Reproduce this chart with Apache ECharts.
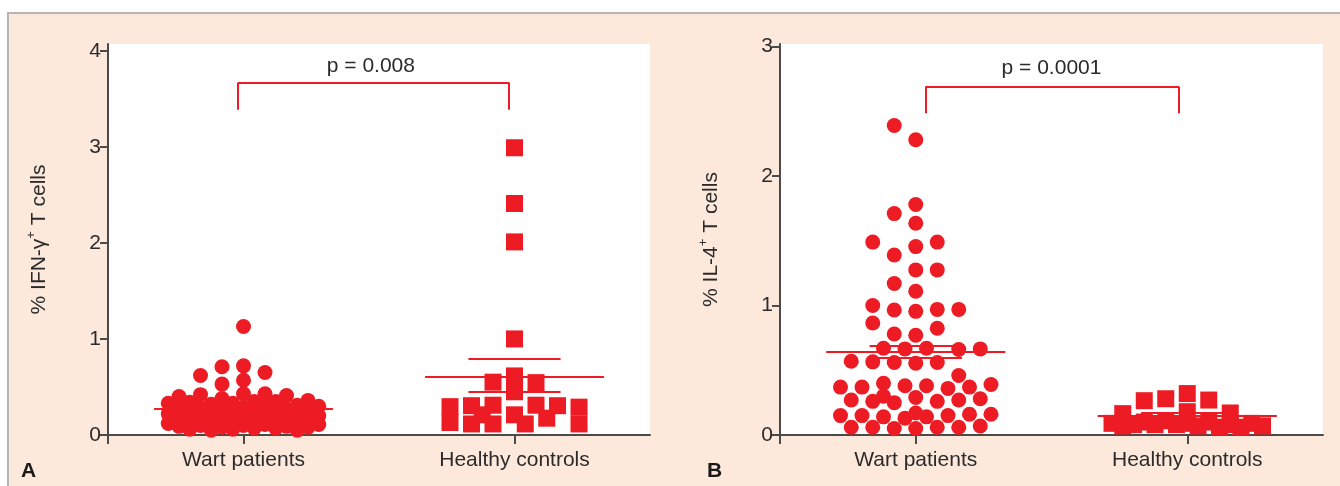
<!DOCTYPE html>
<html><head><meta charset="utf-8">
<script src="https://cdn.jsdelivr.net/npm/echarts@6/dist/echarts.min.js"></script>
<style>
html,body{margin:0;padding:0;background:#fff;width:1340px;height:486px;overflow:hidden;}
#frame{position:absolute;left:7px;top:12px;width:1340px;height:480px;background:#fde8dc;border-top:2px solid #b5b5b5;border-left:2px solid #b5b5b5;}
#chart{position:absolute;left:0;top:0;width:1340px;height:486px;}
</style></head><body>
<div id="frame"></div><div id="chart"></div>
<script>
// ---------------- data ----------------
const categories = ['Wart patients', 'Healthy controls'];

// Panel A: % IFN-gamma+ T cells
const ifnWart = [1.13, 0.72, 0.71, 0.65, 0.62, 0.57, 0.53, 0.43, 0.43, 0.42, 0.41, 0.40, 0.38,
  0.36, 0.35, 0.35, 0.34, 0.33, 0.33, 0.32, 0.31,
  0.30, 0.30, 0.29, 0.28, 0.28, 0.27, 0.26, 0.26,
  0.25, 0.24, 0.24, 0.23, 0.22, 0.22, 0.21, 0.20,
  0.20, 0.19, 0.18, 0.18, 0.17, 0.16, 0.16, 0.15,
  0.14, 0.14, 0.13, 0.13, 0.12, 0.12, 0.11, 0.11,
  0.10, 0.10, 0.09, 0.09, 0.08, 0.08, 0.07, 0.07,
  0.06, 0.06, 0.05, 0.05];
const ifnHealthy = [2.99, 2.41, 2.01, 1.00, 0.615, 0.55, 0.545, 0.45,
  0.31, 0.31, 0.305, 0.305, 0.295, 0.29, 0.21, 0.21, 0.175,
  0.13, 0.115, 0.115, 0.115, 0.115];
const ifnMean = [0.275, 0.61];
const ifnSemHigh = [0.30, 0.79];
const ifnSemLow = [0.25, 0.455];

// Panel B: % IL-4+ T cells
const il4Wart = [2.39, 2.28, 1.78, 1.71, 1.635, 1.49, 1.49, 1.455, 1.39, 1.275, 1.275, 1.17, 1.11,
  1.00, 0.97, 0.97, 0.965, 0.955, 0.865, 0.825, 0.78, 0.77,
  0.67, 0.665, 0.66, 0.665, 0.67,
  0.56, 0.565, 0.555, 0.56, 0.57, 0.46,
  0.39, 0.38, 0.37, 0.37, 0.38, 0.40, 0.36, 0.37,
  0.27, 0.25, 0.28, 0.29, 0.26, 0.30, 0.27, 0.26,
  0.15, 0.16, 0.14, 0.15, 0.17, 0.13, 0.15, 0.16, 0.14,
  0.06, 0.06, 0.05, 0.07, 0.06, 0.05, 0.06];
const il4Healthy = [0.32, 0.28, 0.27, 0.265, 0.18, 0.17, 0.165,
  0.11, 0.10, 0.10, 0.09, 0.09, 0.09, 0.08, 0.08, 0.08, 0.08, 0.07, 0.07, 0.07, 0.06, 0.06];
const il4Mean = [0.645, 0.145];
const il4SemHigh = [0.69, 0.17];
const il4SemLow = [0.60, 0.12];

// annotations
const pLabels = ['p = 0.008', 'p = 0.0001'];
const bracketEnds = [[0.48, 1.48], [0.535, 1.47]];
const bracketTop = [3.67, 2.69];
const bracketLeg = [3.385, 2.485];
const pLabelAt = [[0.97, 3.84], [1.0, 2.83]];
const yTicksA = [0, 1, 2, 3, 4];
const yTicksB = [0, 1, 2, 3];
const yTitles = ['% IFN-γ{sup|+} T cells', '% IL-4{sup|+} T cells'];
const panelLetters = ['A', 'B'];

// ---------------- layout ----------------
const RED = '#ed1c24';
const AXIS = '#4a4a4a';
const TXT = '#2b2b2b';
const FONT = "'Liberation Sans', Arial, Helvetica, sans-serif";
const GRID_TOP = 44, GRID_H = 391;
const grids = [{left: 108, width: 542}, {left: 780, width: 543}];
const yMax = [4.07, 3.02];

function swarm(values, center, pxX, pxY, o) {
  const order = values.map((v, i) => i).sort((a, b) => o.desc ? values[b] - values[a] : values[a] - values[b]);
  const placed = [];
  const res = new Array(values.length);
  const nMax = Math.floor(o.maxHalf / o.step + 1e-9);
  const primary = [0];
  for (let k = 1; k <= nMax; k++) primary.push(-k * o.step, k * o.step);
  const secondary = [];
  for (let k = 0.5; k <= o.maxHalf / o.step + 1e-9; k += 1) secondary.push(-k * o.step, k * o.step);
  const minDist = (x, y) => { let m = Infinity; for (const p of placed) { const d = Math.hypot(p.x - x, p.y - y); if (d < m) m = d; } return m; };
  for (const i of order) {
    const y = values[i] * pxY;
    let best = null;
    for (const x of primary) if (minDist(x, y) >= o.d) { best = x; break; }
    if (best === null) for (const x of secondary) if (minDist(x, y) >= o.d) { best = x; break; }
    if (best === null) {
      let bm = -1;
      for (const x of primary.concat(secondary)) { const m = minDist(x, y); if (m > bm + 0.01) { bm = m; best = x; } }
    }
    placed.push({x: best, y});
    res[i] = [center + best / pxX, values[i]];
  }
  return res;
}

function panelSeries(p, wart, healthy, mean, hi, lo) {
  const pxX = grids[p].width / 2;
  const pxY = GRID_H / yMax[p];
  const wartPts = swarm(wart, 0.5, pxX, pxY, {step: 21.5, d: p === 0 ? 12.5 : 15, maxHalf: 78, desc: p === 0});
  const hPts = swarm(healthy, 1.5, pxX, pxY, {step: 21.5, d: 15.5, maxHalf: 78, desc: true});
  const seg = (c, half, y) => [{coord: [c - half, y]}, {coord: [c + half, y]}];
  const meanLines = (gi) => {
    const c = gi + 0.5;
    return [seg(c, 0.33, mean[gi]), seg(c, 0.17, hi[gi]), seg(c, 0.17, lo[gi])];
  };
  const ml = (data) => ({
    silent: true, symbol: ['none', 'none'], label: {show: false},
    lineStyle: {color: RED, width: 2, type: 'solid'}, emphasis: {disabled: true},
    animation: false, data
  });
  const be = bracketEnds[p];
  return [
    {type: 'scatter', xAxisIndex: p, yAxisIndex: p, data: wartPts, symbol: 'circle', symbolSize: 15,
      itemStyle: {color: RED, opacity: 1}, animation: false, markLine: ml(meanLines(0))},
    {type: 'scatter', xAxisIndex: p, yAxisIndex: p, data: hPts, symbol: 'rect', symbolSize: 17,
      itemStyle: {color: RED, opacity: 1}, animation: false, markLine: ml(meanLines(1))},
    {type: 'scatter', xAxisIndex: p, yAxisIndex: p, data: [], animation: false,
      markLine: ml([
        [{coord: [be[0], bracketTop[p]]}, {coord: [be[1], bracketTop[p]]}],
        [{coord: [be[0], bracketTop[p]]}, {coord: [be[0], bracketLeg[p]]}],
        [{coord: [be[1], bracketTop[p]]}, {coord: [be[1], bracketLeg[p]]}]
      ]),
      markPoint: {symbol: 'rect', symbolSize: 0, silent: true, animation: false,
        label: {show: true, position: 'inside', formatter: pLabels[p], color: TXT, fontSize: 21, fontFamily: FONT},
        data: [{coord: pLabelAt[p]}]}
    }
  ];
}

const axisLine = {show: true, onZero: false, lineStyle: {color: AXIS, width: 2}};
const option = {
  animation: false,
  textStyle: {fontFamily: FONT},
  title: panelLetters.map((t, i) => ({text: t, left: i === 0 ? 21 : 707, top: 461, padding: 0,
    textStyle: {fontSize: 21, fontWeight: 'bold', color: '#1a1a1a', fontFamily: FONT}})),
  grid: grids.map(g => ({left: g.left, width: g.width, top: GRID_TOP, height: GRID_H,
    show: true, backgroundColor: '#ffffff', borderWidth: 0})),
  xAxis: [0, 1].map(i => ({
    gridIndex: i, type: 'value', min: 0, max: 2,
    axisLine,
    axisTick: {show: true, customValues: [0, 0.5, 1.5], length: 9, lineStyle: {color: AXIS, width: 2}},
    axisLabel: {customValues: [0.5, 1.5], formatter: v => categories[Math.floor(v)], fontSize: 21, color: TXT, margin: 15},
    splitLine: {show: false}
  })),
  yAxis: [0, 1].map(i => ({
    gridIndex: i, type: 'value', min: 0, max: yMax[i],
    axisLine,
    axisTick: {show: true, customValues: i === 0 ? yTicksA : yTicksB, length: 8, lineStyle: {color: AXIS, width: 2}},
    axisLabel: {customValues: i === 0 ? yTicksA : yTicksB, fontSize: 21, color: TXT, margin: 7},
    splitLine: {show: false},
    name: yTitles[i], nameLocation: 'middle', nameGap: 55,
    nameTextStyle: {fontSize: 21, color: TXT, fontFamily: FONT,
      rich: {sup: {fontSize: 13, color: TXT, fontFamily: FONT, padding: [0, 0, 15, 0]}}}
  })),
  series: [
    ...panelSeries(0, ifnWart, ifnHealthy, ifnMean, ifnSemHigh, ifnSemLow),
    ...panelSeries(1, il4Wart, il4Healthy, il4Mean, il4SemHigh, il4SemLow)
  ]
};
const chart = echarts.init(document.getElementById('chart'), null, {renderer: 'canvas'});
chart.setOption(option);
</script>
</body></html>
